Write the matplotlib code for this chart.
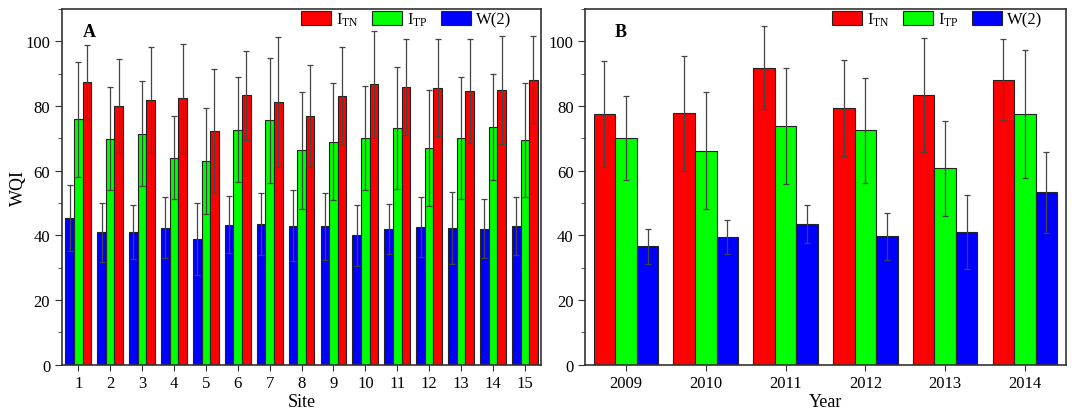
import numpy as np
import matplotlib
matplotlib.use('Agg')
import matplotlib.pyplot as plt
from matplotlib.ticker import MultipleLocator

plt.rcParams['font.family'] = ['Liberation Serif', 'DejaVu Serif']
plt.rcParams['mathtext.fontset'] = 'custom'
plt.rcParams['mathtext.rm'] = 'Liberation Serif'

# Panel A: por sitio
sites = list(range(1, 15 + 1))
a_w2 = [45.5, 40.9, 41.1, 42.4, 38.8, 43.3, 43.5, 43.0, 42.8, 40.0, 41.9, 42.5, 42.2, 42.1, 43.0]
a_w2_sd = [10.2, 9.0, 8.4, 9.5, 11.1, 8.9, 9.5, 11.0, 10.3, 9.5, 7.7, 9.3, 11.2, 9.2, 9.0]
a_tp = [75.9, 69.9, 71.5, 64.0, 62.9, 72.7, 75.6, 66.3, 69.0, 70.0, 73.3, 67.0, 70.1, 73.5, 69.5]
a_tp_sd = [17.7, 16.0, 16.1, 12.8, 16.4, 16.2, 19.4, 18.1, 18.2, 16.1, 18.9, 17.8, 18.9, 16.5, 17.7]
a_tn = [87.5, 80.0, 81.9, 82.4, 72.3, 83.3, 81.2, 76.9, 83.1, 86.8, 85.9, 85.7, 84.6, 84.9, 88.2]
a_tn_sd = [11.4, 14.5, 16.3, 16.9, 19.2, 13.8, 20.2, 15.9, 15.1, 16.4, 14.9, 15.0, 16.0, 16.8, 13.5]

# Panel B: por año
years = ['2009', '2010', '2011', '2012', '2013', '2014']
b_tn = [77.5, 77.7, 91.9, 79.3, 83.5, 88.2]
b_tn_sd = [16.3, 17.7, 12.7, 14.9, 17.6, 12.5]
b_tp = [70.1, 66.1, 73.8, 72.5, 60.7, 77.5]
b_tp_sd = [12.9, 18.1, 18.0, 16.2, 14.6, 19.7]
b_w2 = [36.7, 39.5, 43.4, 39.7, 41.0, 53.3]
b_w2_sd = [5.4, 5.2, 5.9, 7.3, 11.5, 12.6]

ROJO = '#ff0000'
VERDE = '#00ff00'
AZUL = '#0000ff'
ancho = 0.27
lab_tn = r'$\mathregular{I_{TN}}$'
lab_tp = r'$\mathregular{I_{TP}}$'
lab_w2 = 'W(2)'


def barras(ax, x, valores, sd, color, label):
    b = ax.bar(x, valores, ancho, color=color, edgecolor='#222222',
               linewidth=0.8, label=label, zorder=2)
    ax.errorbar(x, valores, yerr=sd, fmt='none', ecolor='#444444',
                elinewidth=0.9, capsize=2.5, capthick=0.9, zorder=3)
    return b


def formato(ax):
    ax.set_ylim(0, 110)
    ax.yaxis.set_major_locator(MultipleLocator(20))
    ax.yaxis.set_minor_locator(MultipleLocator(10))
    ax.tick_params(axis='both', which='both', direction='out', labelsize=12,
                   top=False, right=False, color='#333333')
    ax.tick_params(axis='y', which='major', length=5)
    ax.tick_params(axis='y', which='minor', length=3)
    ax.tick_params(axis='x', which='major', length=4)
    for s in ax.spines.values():
        s.set_linewidth(1.2)
        s.set_color('#333333')


fig = plt.figure(figsize=(10.72, 4.10), dpi=100)
axA = fig.add_axes([0.0578, 0.108, 0.447, 0.8676])
axB = fig.add_axes([0.546, 0.108, 0.448, 0.8676])

# Panel A: azul, verde, rojo
xs = np.arange(1, len(sites) + 1)
hA_w = barras(axA, xs - ancho, a_w2, a_w2_sd, AZUL, lab_w2)
hA_p = barras(axA, xs, a_tp, a_tp_sd, VERDE, lab_tp)
hA_n = barras(axA, xs + ancho, a_tn, a_tn_sd, ROJO, lab_tn)
formato(axA)
axA.set_xlim(0.49, 15.51)
axA.set_xticks(xs)
axA.set_xticklabels([str(s) for s in sites])
axA.set_xlabel('Site', fontsize=13, labelpad=1)
axA.set_ylabel('WQI', fontsize=13)
axA.yaxis.set_label_coords(-0.073, 0.5)
axA.text(0.044, 0.937, 'A', transform=axA.transAxes, fontsize=13,
         fontweight='bold', va='center', ha='left')
axA.legend([hA_n, hA_p, hA_w], [lab_tn, lab_tp, lab_w2], ncol=3,
           loc='upper left', bbox_to_anchor=(0.495, 1.0), frameon=False,
           fontsize=12, handlelength=1.8, handleheight=0.9,
           handletextpad=0.3, columnspacing=0.8, borderpad=0.1,
           borderaxespad=0.0)

# Panel B: rojo, verde, azul
xb = np.arange(len(years))
hB_n = barras(axB, xb - ancho, b_tn, b_tn_sd, ROJO, lab_tn)
hB_p = barras(axB, xb, b_tp, b_tp_sd, VERDE, lab_tp)
hB_w = barras(axB, xb + ancho, b_w2, b_w2_sd, AZUL, lab_w2)
formato(axB)
axB.set_xlim(-0.51, 5.51)
axB.set_xticks(xb)
axB.set_xticklabels(years)
axB.set_xlabel('Year', fontsize=13, labelpad=1)
axB.text(0.062, 0.937, 'B', transform=axB.transAxes, fontsize=13,
         fontweight='bold', va='center', ha='left')
axB.legend([hB_n, hB_p, hB_w], [lab_tn, lab_tp, lab_w2], ncol=3,
           loc='upper left', bbox_to_anchor=(0.51, 1.0), frameon=False,
           fontsize=12, handlelength=1.8, handleheight=0.9,
           handletextpad=0.3, columnspacing=0.8, borderpad=0.1,
           borderaxespad=0.0)

fig.savefig('out.png', dpi=100)
